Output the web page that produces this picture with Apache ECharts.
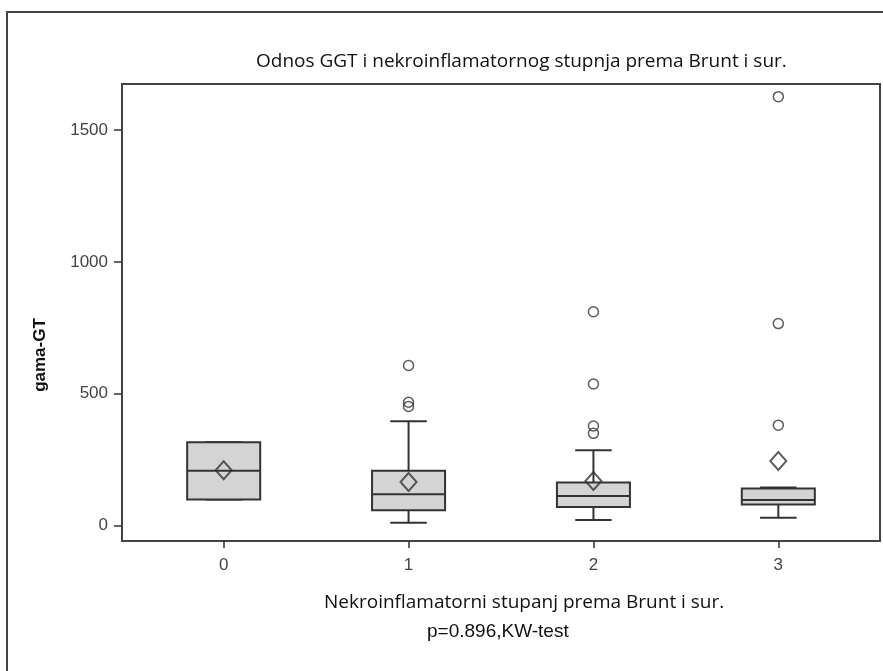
<!DOCTYPE html>
<html>
<head>
<meta charset="utf-8">
<script src="https://cdn.jsdelivr.net/npm/echarts@6/dist/echarts.min.js"></script>
<style>
html, body { margin: 0; padding: 0; background: #fff; }
#main { width: 883px; height: 671px; }
</style>
</head>
<body>
<div id="main"></div>
<script>
// stupanj (x) i gama-GT vrijednosti
var categories = [0, 1, 2, 3];
// [min, Q1, median, Q3, max]
var boxValues = [
    [99, 99, 208, 316, 316],
    [11, 59, 119, 208, 396],
    [22, 71, 113, 164, 286],
    [30, 80, 97, 141, 145]
];
var meanValues = [210, 166, 169, 245];
var outliers = [
    [1, 607], [1, 468], [1, 452],
    [2, 811], [2, 537], [2, 378], [2, 350],
    [3, 1626], [3, 766], [3, 381]
];
var yTicks = [0, 500, 1000, 1500];

var boxData = categories.map(function (c, i) {
    return [c].concat(boxValues[i]);
});
var meanData = categories.map(function (c, i) {
    return [c, meanValues[i]];
});

function renderBox(params, api) {
    var x = api.value(0);
    var lo = api.coord([x, api.value(1)]);
    var q1 = api.coord([x, api.value(2)]);
    var med = api.coord([x, api.value(3)]);
    var q3 = api.coord([x, api.value(4)]);
    var hi = api.coord([x, api.value(5)]);
    var half = api.size([0.395, 0])[0] / 2;
    var cap = half / 2;
    var ls = { stroke: '#333', lineWidth: 2 };
    return {
        type: 'group',
        children: [
            { type: 'line', shape: { x1: lo[0], y1: lo[1], x2: q1[0], y2: q1[1] }, style: ls },
            { type: 'line', shape: { x1: q3[0], y1: q3[1], x2: hi[0], y2: hi[1] }, style: ls },
            { type: 'line', shape: { x1: lo[0] - cap, y1: lo[1], x2: lo[0] + cap, y2: lo[1] }, style: ls },
            { type: 'line', shape: { x1: hi[0] - cap, y1: hi[1], x2: hi[0] + cap, y2: hi[1] }, style: ls },
            {
                type: 'rect',
                shape: { x: q3[0] - half, y: q3[1], width: half * 2, height: q1[1] - q3[1] },
                style: { fill: '#d4d4d4', stroke: '#333', lineWidth: 2 }
            },
            { type: 'line', shape: { x1: med[0] - half, y1: med[1], x2: med[0] + half, y2: med[1] }, style: ls }
        ]
    };
}

var myChart = echarts.init(document.getElementById('main'));

myChart.setOption({
    animation: false,
    grid: {
        left: 122,
        right: 3,
        top: 84,
        bottom: 130,
        show: true,
        borderColor: '#444',
        borderWidth: 2
    },
    xAxis: {
        type: 'value',
        min: -0.55,
        max: 3.55,
        axisLine: { show: false, onZero: false },
        splitLine: { show: false },
        axisTick: { show: true, customValues: categories, length: 7, lineStyle: { color: '#333', width: 1.5 } },
        axisLabel: { customValues: categories, margin: 16, fontSize: 17, color: '#444', fontFamily: 'Liberation Sans' }
    },
    yAxis: {
        type: 'value',
        min: -58,
        max: 1674,
        axisLine: { show: false, onZero: false },
        splitLine: { show: false },
        axisTick: { show: true, customValues: yTicks, length: 8, lineStyle: { color: '#333', width: 1.5 } },
        axisLabel: {
            customValues: yTicks, margin: 14, fontSize: 17, color: '#444', fontFamily: 'Liberation Sans',
            formatter: function (v) { return String(v); }
        }
    },
    graphic: [
        {
            type: 'rect',
            shape: { x: 7, y: 12, width: 2000, height: 2000 },
            style: { fill: 'none', stroke: '#444', lineWidth: 2 },
            silent: true
        },
        {
            type: 'text', x: 256, y: 62,
            style: { text: 'Odnos GGT i nekroinflamatornog stupnja prema Brunt i sur.', font: '19px "Open Sans"', fill: '#111', align: 'left', verticalAlign: 'middle' }
        },
        {
            type: 'text', x: 40, y: 355, rotation: Math.PI / 2,
            style: { text: 'gama-GT', font: 'bold 17px "Liberation Sans"', fill: '#111', align: 'center', verticalAlign: 'middle' }
        },
        {
            type: 'text', x: 324, y: 603,
            style: { text: 'Nekroinflamatorni stupanj prema Brunt i sur.', font: '19px "Open Sans"', fill: '#111', align: 'left', verticalAlign: 'middle' }
        },
        {
            type: 'text', x: 427, y: 632,
            style: { text: 'p=0.896,KW-test', font: '19px "Liberation Sans"', fill: '#111', align: 'left', verticalAlign: 'middle' }
        }
    ],
    series: [
        {
            type: 'custom',
            renderItem: renderBox,
            data: boxData,
            encode: { x: 0, y: [1, 2, 3, 4, 5] },
            z: 2
        },
        {
            type: 'scatter',
            data: meanData,
            symbol: 'diamond',
            symbolSize: [16, 18],
            itemStyle: { color: 'transparent', borderColor: '#333', borderWidth: 2 },
            z: 3
        },
        {
            type: 'scatter',
            data: outliers,
            symbol: 'circle',
            symbolSize: 10,
            itemStyle: { color: 'transparent', borderColor: '#333', borderWidth: 1.5 },
            z: 3
        }
    ]
});
</script>
</body>
</html>
